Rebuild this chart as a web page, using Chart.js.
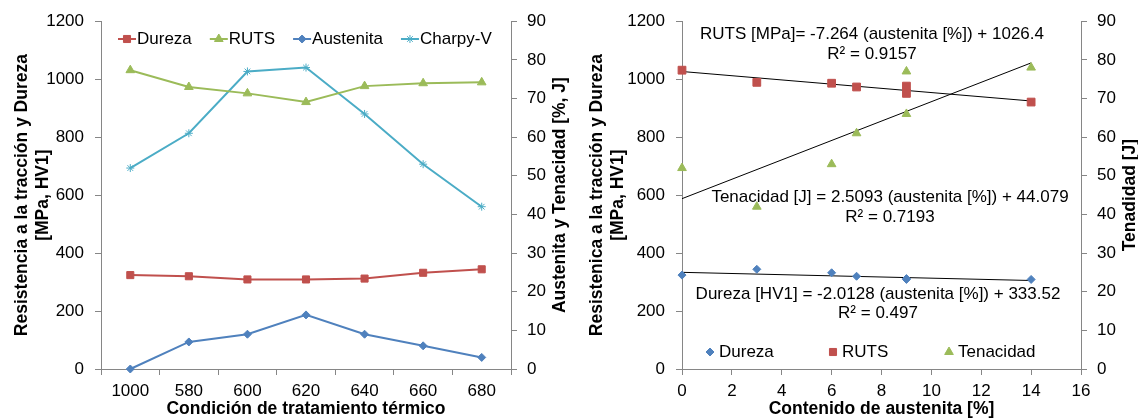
<!DOCTYPE html>
<html>
<head>
<meta charset="utf-8">
<script src="https://cdn.jsdelivr.net/npm/chart.js@4.4.1/dist/chart.umd.min.js"></script>
<style>
body{margin:0;background:#fff;}
#izq{position:absolute;left:0;top:0;}
#der{position:absolute;left:570px;top:0;}
</style>
</head>
<body>
<canvas id="izq" width="570" height="418"></canvas>
<canvas id="der" width="568" height="418"></canvas>
<script>
// datos
const condiciones = ["1000", "580", "600", "620", "640", "660", "680"];
const dureza = [324, 320, 309, 309, 312, 332, 344];
const ruts = [1031, 973, 951, 921, 976, 986, 989];
const austenita = [0, 7, 9, 14, 9, 6, 3];
const charpy = [52, 61, 77, 78, 66, 53, 42];

const ticksResist = [0, 200, 400, 600, 800, 1000, 1200];
const ticksTenac = [0, 10, 20, 30, 40, 50, 60, 70, 80, 90];
const ticksAust = [0, 2, 4, 6, 8, 10, 12, 14, 16];

// tendencias [pendiente, ordenada]
const tendRuts = [-7.264, 1026.4];
const tendTenac = [2.5093, 44.079];
const tendDureza = [-2.0128, 333.52];
const rangoTend = [0, 14];

const rojo = "#C0504D";
const verde = "#9BBB59";
const azul = "#4F81BD";
const cian = "#4BACC6";
const gris = "#868686";

const familia = "'Liberation Sans', Arial, sans-serif";
Chart.defaults.font.family = familia;
Chart.defaults.color = "#000";

const fuenteTick = {size: 17};
const fuenteTitulo = {size: 17.5, weight: "bold"};
const fuenteTituloX = {size: 17.5, weight: "bold", lineHeight: 1};

function ejeY(pos, ticks, ancho, titulo, padTitulo){
    return {
        position: pos,
        min: ticks[0],
        max: ticks[ticks.length - 1],
        ticks: {stepSize: ticks[1] - ticks[0], font: fuenteTick, padding: pos === "left" ? 11 : 10,
                callback: v => String(v)},
        grid: {drawOnChartArea: false, tickLength: 6, color: gris},
        border: {color: gris},
        title: {display: titulo !== null, text: titulo, font: fuenteTitulo, padding: {top: padTitulo, bottom: 0}},
        afterFit: s => { s.width = ancho; }
    };
}

function lineaTend(coef){
    return rangoTend.map(x => ({x: x, y: coef[0] * x + coef[1]}));
}

// titulo del eje derecho, leido de abajo hacia arriba
function tituloDer(texto, x){
    return {
        id: "tituloDer",
        afterDraw(chart){
            const ctx = chart.ctx;
            const a = chart.chartArea;
            ctx.save();
            ctx.translate(x, (a.top + a.bottom) / 2);
            ctx.rotate(-Math.PI / 2);
            ctx.font = "bold 17.5px " + familia;
            ctx.fillStyle = "#000";
            ctx.textAlign = "center";
            ctx.textBaseline = "middle";
            ctx.fillText(texto, 0, 0);
            ctx.restore();
        }
    };
}

const leyendaIzq = {
    id: "leyendaIzq",
    afterDraw(chart){
        const ctx = chart.ctx;
        const items = [
            {t: "Dureza", c: rojo, s: "rect", r: 5},
            {t: "RUTS", c: verde, s: "triangle", r: 5},
            {t: "Austenita", c: azul, s: "rectRot", r: 4},
            {t: "Charpy-V", c: cian, s: "star", r: 4}
        ];
        let x = 118;
        const y = 39;
        ctx.save();
        ctx.font = "17px " + familia;
        ctx.textBaseline = "middle";
        items.forEach(it => {
            ctx.strokeStyle = it.c;
            ctx.fillStyle = it.c;
            ctx.lineWidth = 2;
            ctx.beginPath();
            ctx.moveTo(x, y);
            ctx.lineTo(x + 18, y);
            ctx.stroke();
            ctx.lineWidth = 1;
            Chart.helpers.drawPoint(ctx, {pointStyle: it.s, radius: it.r, rotation: 0, borderWidth: 1}, x + 9, y);
            ctx.fillStyle = "#000";
            ctx.fillText(it.t, x + 19, y);
            x += 19 + ctx.measureText(it.t).width + 18;
        });
        ctx.restore();
    }
};

const textosDer = {
    id: "textosDer",
    afterDraw(chart){
        const ctx = chart.ctx;
        ctx.save();
        ctx.font = "17px " + familia;
        ctx.textBaseline = "middle";
        ctx.fillStyle = "#000";
        ctx.textAlign = "center";
        ctx.fillText("RUTS [MPa]= " + tendRuts[0] + " (austenita [%]) + " + tendRuts[1], 302, 34);
        ctx.fillText("R² = 0.9157", 302, 54);
        ctx.fillText("Tenacidad [J] = " + tendTenac[0] + " (austenita [%]) + " + tendTenac[1], 320, 197);
        ctx.fillText("R² = 0.7193", 320, 217);
        ctx.fillText("Dureza [HV1] = " + tendDureza[0] + " (austenita [%]) + " + tendDureza[1], 308, 294);
        ctx.fillText("R² = 0.497", 308, 313);

        // leyenda
        const items = [
            {t: "Dureza", c: azul, s: "rectRot", r: 4, x: 140},
            {t: "RUTS", c: rojo, s: "rect", r: 5, x: 263},
            {t: "Tenacidad", c: verde, s: "triangle", r: 5, x: 379}
        ];
        const y = 352;
        ctx.textAlign = "left";
        items.forEach(it => {
            ctx.fillStyle = it.c;
            ctx.strokeStyle = it.c;
            ctx.lineWidth = 1;
            Chart.helpers.drawPoint(ctx, {pointStyle: it.s, radius: it.r, rotation: 0, borderWidth: 1}, it.x, y);
            ctx.fillStyle = "#000";
            ctx.fillText(it.t, it.x + 9, y);
        });
        ctx.restore();
    }
};

new Chart(document.getElementById("izq"), {
    type: "line",
    data: {
        labels: condiciones,
        datasets: [
            {label: "Dureza", data: dureza, yAxisID: "y", borderColor: rojo, backgroundColor: rojo,
             pointStyle: "rect", pointRadius: 5, borderWidth: 2, pointBorderWidth: 1, clip: false},
            {label: "RUTS", data: ruts, yAxisID: "y", borderColor: verde, backgroundColor: verde,
             pointStyle: "triangle", pointRadius: 5, borderWidth: 2, pointBorderWidth: 1, clip: false},
            {label: "Austenita", data: austenita, yAxisID: "y1", borderColor: azul, backgroundColor: azul,
             pointStyle: "rectRot", pointRadius: 4, borderWidth: 2, pointBorderWidth: 1, clip: false},
            {label: "Charpy-V", data: charpy, yAxisID: "y1", borderColor: cian, backgroundColor: cian,
             pointStyle: "star", pointRadius: 4, borderWidth: 2, pointBorderWidth: 1, clip: false}
        ]
    },
    options: {
        responsive: false,
        animation: false,
        layout: {padding: {top: 18, left: 0, right: 0, bottom: 0}},
        plugins: {legend: {display: false}, tooltip: {enabled: false}},
        scales: {
            x: {
                offset: true,
                grid: {offset: true, drawOnChartArea: false, tickLength: 6, color: gris},
                border: {color: gris},
                ticks: {font: fuenteTick, padding: 6},
                title: {display: true, text: "Condición de tratamiento térmico", font: fuenteTituloX, padding: 0},
                afterFit: s => { s.height = 49; }
            },
            y: ejeY("left", ticksResist, 101, ["Resistencia a la tracción y Dureza", "[MPa, HV1]"], 12),
            y1: ejeY("right", ticksTenac, 59, null, 0)
        }
    },
    plugins: [leyendaIzq, tituloDer("Austenita y Tenacidad [%, J]", 560)]
});

new Chart(document.getElementById("der"), {
    type: "scatter",
    data: {
        datasets: [
            {label: "Dureza", data: austenita.map((a, i) => ({x: a, y: dureza[i]})), yAxisID: "y",
             backgroundColor: azul, borderColor: azul, pointStyle: "rectRot", pointRadius: 4, clip: false},
            {label: "RUTS", data: austenita.map((a, i) => ({x: a, y: ruts[i]})), yAxisID: "y",
             backgroundColor: rojo, borderColor: rojo, pointStyle: "rect", pointRadius: 5.5, clip: false},
            {label: "Tenacidad", data: austenita.map((a, i) => ({x: a, y: charpy[i]})), yAxisID: "y1",
             backgroundColor: verde, borderColor: verde, pointStyle: "triangle", pointRadius: 5, clip: false},
            {data: lineaTend(tendRuts), yAxisID: "y", showLine: true, pointRadius: 0, borderColor: "#000", borderWidth: 1},
            {data: lineaTend(tendTenac), yAxisID: "y1", showLine: true, pointRadius: 0, borderColor: "#000", borderWidth: 1},
            {data: lineaTend(tendDureza), yAxisID: "y", showLine: true, pointRadius: 0, borderColor: "#000", borderWidth: 1}
        ]
    },
    options: {
        responsive: false,
        animation: false,
        layout: {padding: {top: 18, left: 0, right: 0, bottom: 0}},
        plugins: {legend: {display: false}, tooltip: {enabled: false}},
        scales: {
            x: {
                type: "linear",
                min: ticksAust[0],
                max: ticksAust[ticksAust.length - 1],
                ticks: {stepSize: ticksAust[1] - ticksAust[0], font: fuenteTick, padding: 6},
                grid: {drawOnChartArea: false, tickLength: 6, color: gris},
                border: {color: gris},
                title: {display: true, text: "Contenido de austenita [%]", font: fuenteTituloX, padding: 0},
                afterFit: s => { s.height = 49; }
            },
            y: ejeY("left", ticksResist, 112, ["Resistenica a la tracción y Dureza", "[MPa, HV1]"], 17),
            y1: ejeY("right", ticksTenac, 57, null, 0)
        }
    },
    plugins: [textosDer, tituloDer("Tenadidad [J]", 560)]
});
</script>
</body>
</html>
